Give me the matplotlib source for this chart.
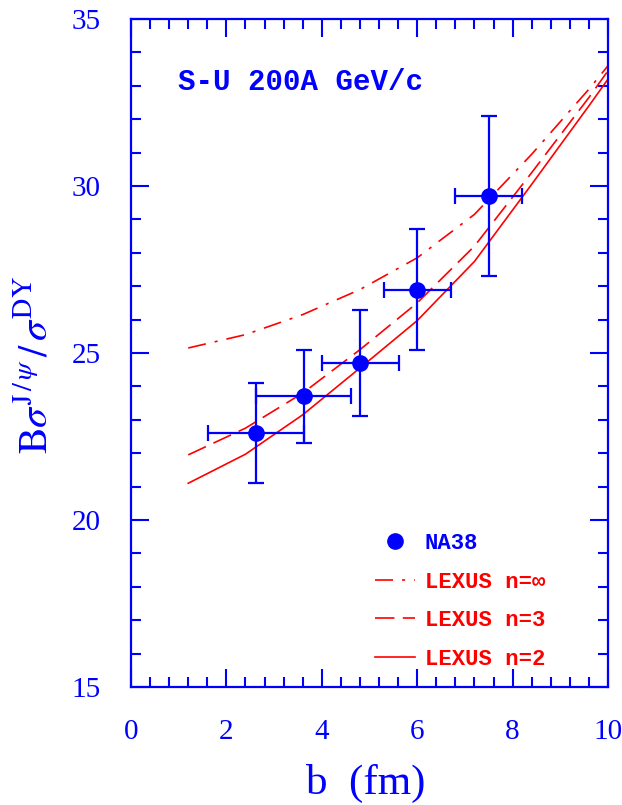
import matplotlib
matplotlib.use("Agg")
import matplotlib.pyplot as plt
from matplotlib.ticker import MultipleLocator
from matplotlib.lines import Line2D

plt.rcParams['lines.scale_dashes'] = False

# ---- data ----
b_data = [2.62, 3.62, 4.81, 6.0, 7.5]
ratio_data = [22.6, 23.7, 24.7, 26.9, 29.7]
ratio_err = [1.5, 1.4, 1.6, 1.8, 2.4]
b_err = [1.0, 1.0, 0.8, 0.7, 0.7]

b_model = [1.2, 2.4, 3.6, 4.8, 6.0, 7.2, 8.4, 9.6, 10.0]
lexus_ninf = [25.15, 25.55, 26.15, 26.9, 27.85, 29.15, 30.95, 32.9, 33.6]
lexus_n3 = [21.95, 22.75, 23.8, 25.1, 26.5, 28.2, 30.4, 32.65, 33.45]
lexus_n2 = [21.1, 21.97, 23.15, 24.55, 25.97, 27.74, 30.05, 32.4, 33.2]

x_ticks = [0, 2, 4, 6, 8, 10]
y_ticks = [15, 20, 25, 30, 35]

BLUE = (0, 0, 1)
RED = (1, 0, 0)
MONO = ['Liberation Mono', 'DejaVu Sans Mono']
SERIF = ['Liberation Serif', 'DejaVu Serif']

fig = plt.figure(figsize=(6.22, 8.05), dpi=100)
ax = fig.add_axes([131/622, 1-687/805, 477/622, 668/805])

dashdot = (0, (13, 6.5, 2.2, 6.5))
dashed = (0, (14, 6))
ax.plot(b_model, lexus_ninf, color=RED, lw=1.2, ls=dashdot, label='LEXUS n=\u221e')
ax.plot(b_model, lexus_n3, color=RED, lw=1.2, ls=dashed, label='LEXUS n=3')
ax.plot(b_model, lexus_n2, color=RED, lw=1.2, ls='-', label='LEXUS n=2')

ax.errorbar(b_data, ratio_data, yerr=ratio_err, xerr=b_err, fmt='o', color=BLUE,
            ms=11, elinewidth=1.6, capsize=5.5, capthick=1.6, label='NA38', zorder=5)

ax.set_xlim(0, 10)
ax.set_ylim(15, 35)
ax.set_xticks(x_ticks)
ax.set_yticks(y_ticks)
ax.xaxis.set_minor_locator(MultipleLocator(0.4))
ax.yaxis.set_minor_locator(MultipleLocator(1))
ax.tick_params(which='both', direction='in', top=True, right=True, color=BLUE,
               width=1.5, labelcolor=BLUE, labelsize=21, labelfontfamily='Liberation Serif')
ax.tick_params(which='major', length=13)
ax.tick_params(which='minor', length=7)
ax.tick_params(axis='x', which='major', pad=23)
ax.tick_params(axis='y', which='major', pad=22)
for sp in ax.spines.values():
    sp.set_color(BLUE)
    sp.set_linewidth(1.6)

ax.text(0.985, 32.86, 'S-U 200A GeV/c', color=BLUE, family=MONO, fontsize=21,
        fontweight='bold', va='baseline', ha='left')

# legend
h_na38 = Line2D([], [], color=BLUE, marker='o', ls='none', ms=11)
h_inf = Line2D([], [], color=RED, lw=1.2, ls=dashdot)
h_3 = Line2D([], [], color=RED, lw=1.2, ls=dashed)
h_2 = Line2D([], [], color=RED, lw=1.2, ls='-')
leg = ax.legend([h_na38, h_inf, h_3, h_2], ['NA38', 'LEXUS n=\u221e', 'LEXUS n=3', 'LEXUS n=2'],
                loc='upper left', bbox_to_anchor=((375-131)/477, 1-(533-19)/668),
                frameon=False, handlelength=1.8, handletextpad=0.45, labelspacing=0.79,
                borderpad=0, borderaxespad=0, prop={'family': MONO, 'size': 16, 'weight': 'bold'})
for txt, c in zip(leg.get_texts(), [BLUE, RED, RED, RED]):
    txt.set_color(c)

fig.text(366/622, 1-783/805, 'b  (fm)', color=BLUE, family=SERIF, fontsize=31,
         ha='center', va='center')
fig.text(36/622, 1-365/805,
         r'$\mathrm{B}\sigma^{\mathrm{J}\,/\,\psi}\,/\,\sigma^{\mathrm{DY}}$',
         color=BLUE, fontsize=29, rotation=90, ha='center', va='center',
         math_fontfamily='stix')

fig.savefig('out.png', dpi=100)
